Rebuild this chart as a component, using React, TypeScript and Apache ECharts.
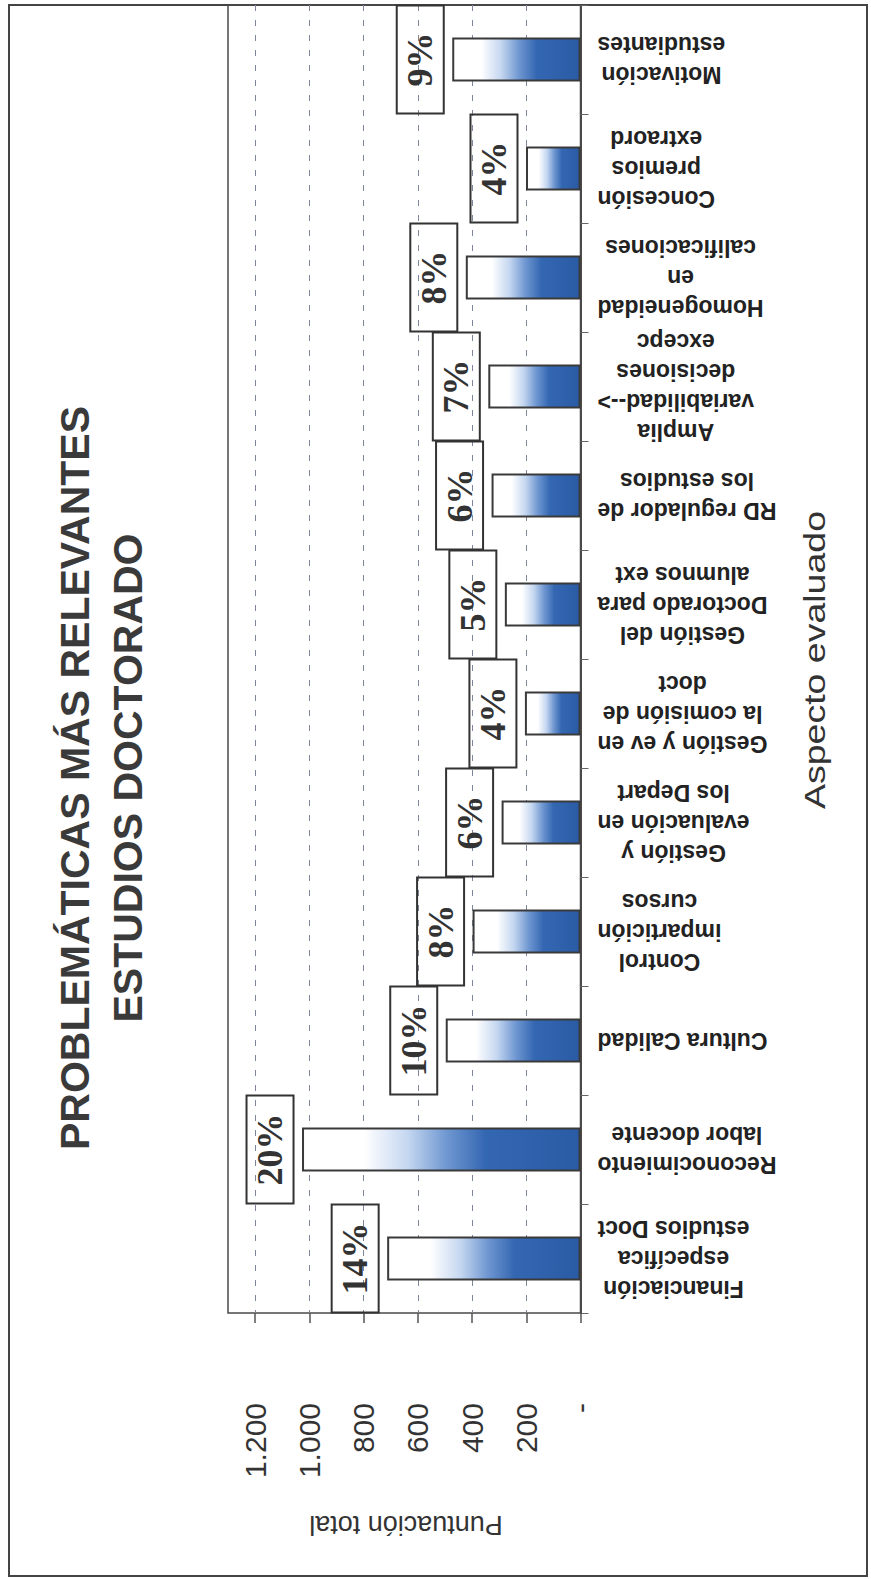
import React, { useEffect, useRef } from 'react';
import * as echarts from 'echarts';

// Categories, listed from the bottom of the page to the top
const categories = [
  'Financiación\nespecífica\nestudios Doct',
  'Reconocimiento\nlabor docente',
  'Cultura Calidad',
  'Control\nimpartición\ncursos',
  'Gestión y\nevaluación en\nlos Depart',
  'Gestión y ev en\nla comisión de\ndoct',
  'Gestión del\nDoctorado para\nalumnos ext',
  'RD regulador de\nlos estudios',
  'Amplia\nvariabilidad-->\ndecisiones\nexcepc',
  'Homogeneidad\nen\ncalificaciones',
  'Concesión\npremios\nextraord',
  'Motivación\nestudiantes',
];
const scores = [713, 1027, 497, 398, 291, 205, 279, 328, 340, 423, 201, 473];
const percentLabels = ['14%', '20%', '10%', '8%', '6%', '4%', '5%', '6%', '7%', '8%', '4%', '9%'];
const valueTicks = [0, 200, 400, 600, 800, 1000, 1200];
const valueTickLabels = ['-', '200', '400', '600', '800', '1.000', '1.200'];
const titleText = 'PROBLEMÁTICAS MÁS RELEVANTES\nESTUDIOS DOCTORADO';
const valueAxisName = 'Puntuación total';
const categoryAxisName = 'Aspecto evaluado';

export default function App() {
  const ref = useRef<HTMLDivElement>(null);
  useEffect(() => {
    if (!ref.current) return;
    const chart = echarts.init(ref.current, null, { renderer: 'svg' });
    const gradient = new echarts.graphic.LinearGradient(0, 0, 1, 0, [
      { offset: 0, color: '#ffffff' },
      { offset: 0.22, color: '#ffffff' },
      { offset: 0.38, color: '#c4d6f0' },
      { offset: 0.52, color: '#6f97d1' },
      { offset: 0.66, color: '#3467b2' },
      { offset: 1, color: '#2a5ba5' },
    ]);
    chart.setOption({
      animation: false,
      backgroundColor: '#ffffff',
      grid: {
        left: 228,
        right: 290.5,
        top: 5,
        bottom: 266,
        show: true,
        borderColor: '#4a4a4a',
        borderWidth: 1.5,
        backgroundColor: 'transparent',
      },
      xAxis: {
        type: 'value',
        inverse: true,
        min: 0,
        max: 1300,
        interval: 200,
        axisLine: { show: false },
        axisTick: {
          show: true,
          length: 10,
          customValues: valueTicks,
          lineStyle: { color: '#555', width: 1.5 },
        },
        axisLabel: {
          customValues: valueTicks,
          rotate: 90,
          margin: 90,
          fontFamily: 'Liberation Sans',
          fontSize: 30,
          color: '#333',
          formatter: (v: number) => {
            const i = valueTicks.indexOf(v);
            return i >= 0 ? valueTickLabels[i] : '';
          },
        },
        splitLine: {
          show: true,
          showMinLine: false,
          lineStyle: { color: '#7d8799', width: 1, type: [6, 9] },
        },
      },
      yAxis: {
        type: 'category',
        position: 'right',
        data: categories,
        axisLine: { show: true, lineStyle: { color: '#4a4a4a', width: 2 } },
        axisTick: { show: true, length: 8, lineStyle: { color: '#666', width: 1 } },
        axisLabel: {
          interval: 0,
          rotate: 180,
          margin: 17,
          formatter: (v: string) =>
            v
              .split('\n')
              .map((l) => `{c|${l}}`)
              .join('\n'),
          rich: {
            c: {
              align: 'center',
              fontFamily: 'Liberation Sans',
              fontWeight: 'bold',
              fontSize: 23,
              lineHeight: 30,
              color: '#222',
            },
          },
        },
        splitLine: { show: false },
      },
      series: [
        {
          type: 'bar',
          data: scores,
          barWidth: 44,
          itemStyle: {
            color: gradient,
            borderColor: '#3a3a3a',
            borderWidth: 2,
          },
          label: {
            show: true,
            position: 'left',
            distance: 32,
            rotate: 90,
            align: 'center',
            verticalAlign: 'middle',
            formatter: (p: any) => percentLabels[p.dataIndex],
            fontFamily: 'Liberation Serif',
            fontWeight: 'bold',
            fontSize: 36,
            color: '#333',
            borderColor: '#333',
            borderWidth: 2,
            width: 104,
            lineHeight: 33,
            padding: [7, 2],
          },
        },
      ],
      graphic: [
        {
          type: 'rect',
          silent: true,
          z: -1,
          shape: { x: 9, y: 5, width: 858, height: 1571 },
          style: { fill: 'none', stroke: '#444', lineWidth: 2 },
        },
        {
          type: 'text',
          x: 101,
          y: 778,
          rotation: Math.PI / 2,
          silent: true,
          style: {
            text: titleText,
            align: 'center',
            verticalAlign: 'middle',
            fontFamily: 'Liberation Sans',
            fontWeight: 'bold',
            fontSize: 41,
            lineHeight: 53,
            fill: '#3a3a3a',
          },
        },
        {
          type: 'text',
          x: 406,
          y: 1525,
          rotation: Math.PI,
          silent: true,
          style: {
            text: valueAxisName,
            align: 'center',
            verticalAlign: 'middle',
            fontFamily: 'Liberation Sans',
            fontSize: 27,
            fill: '#333',
          },
        },
        {
          type: 'text',
          x: 814,
          y: 660,
          rotation: Math.PI / 2,
          scaleX: 1.25,
          silent: true,
          style: {
            text: categoryAxisName,
            align: 'center',
            verticalAlign: 'middle',
            fontFamily: 'Liberation Sans',
            fontSize: 30,
            fill: '#333',
          },
        },
      ],
    });
    return () => chart.dispose();
  }, []);
  return (
    <div
      ref={ref}
      style={{ position: 'absolute', left: 0, top: 0, width: 871, height: 1579, background: '#fff' }}
    />
  );
}
